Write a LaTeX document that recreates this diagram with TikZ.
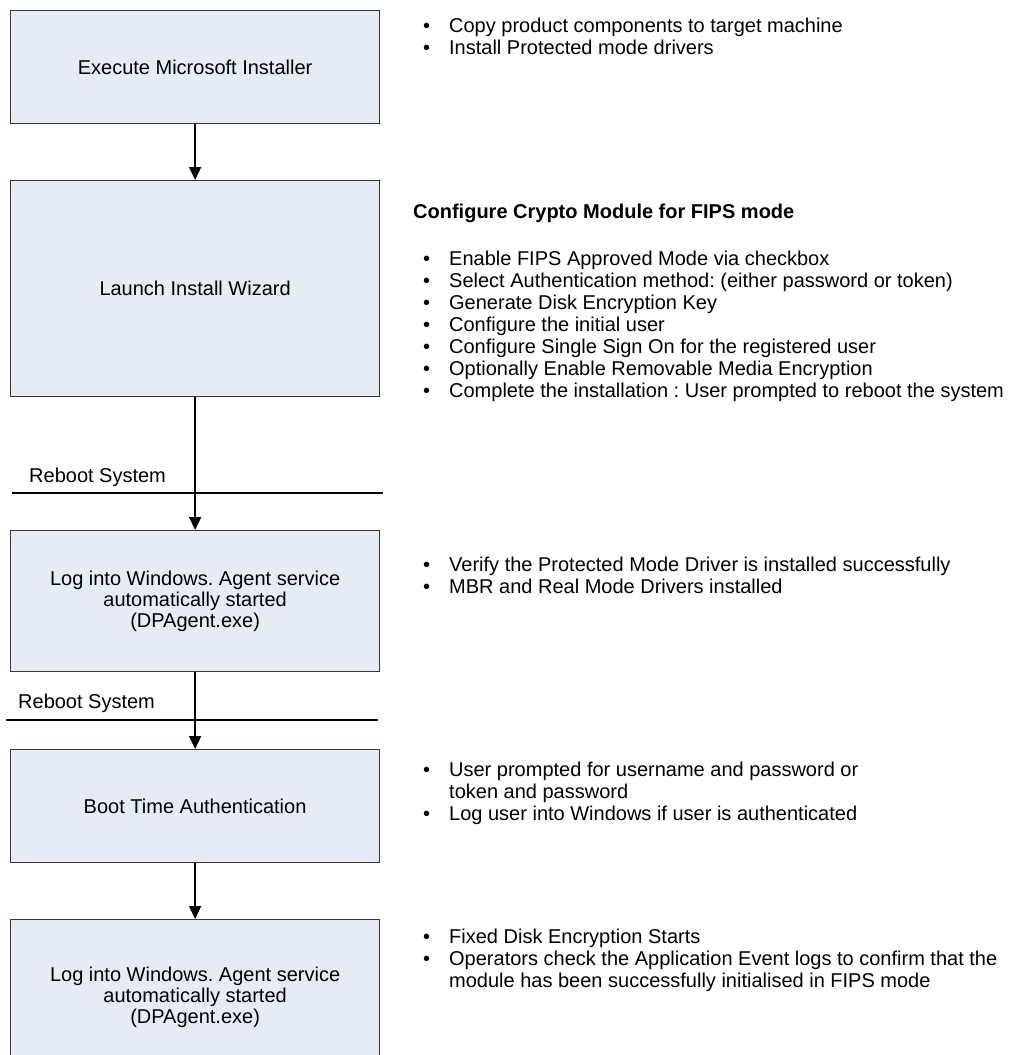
\documentclass[tikz,border=0pt]{standalone}
\usepackage{fontspec}
\setmainfont{Liberation Sans}
\usetikzlibrary{arrows.meta}
\definecolor{boxfill}{RGB}{230,236,246}
\definecolor{boxdraw}{RGB}{55,55,55}
\newcommand{\bl}{\textbullet}
\frenchspacing
\begin{document}
\begin{tikzpicture}[x=1pt,y=-1pt,
  box/.style={draw=boxdraw, fill=boxfill, line width=1.2pt, minimum width=369pt,
    align=center, font=\fontsize{20}{21}\selectfont, inner sep=0pt, anchor=north west},
  arr/.style={-{Triangle[length=13pt,width=12pt]}, line width=1.5pt, black},
  rebootline/.style={line width=2pt, black},
  rebootlabel/.style={font=\fontsize{20}{21}\selectfont, anchor=west, inner sep=0pt},
  rtext/.style={font=\fontsize{20}{22}\selectfont, anchor=north west, inner sep=0pt, align=left},
  heading/.style={font=\fontsize{20}{22}\selectfont\bfseries, anchor=west, inner sep=0pt}]
\useasboundingbox (0,0) rectangle (1009,1055);
\clip (0,0) rectangle (1009,1055);
\fill[white] (0,0) rectangle (1009,1055);

% boxes
\node[box, minimum height=113pt] (b1) at (10,10) {Execute Microsoft Installer};
\node[box, minimum height=216pt] (b2) at (10,180) {Launch Install Wizard};
\node[box, minimum height=141pt] (b3) at (10,530) {Log into Windows. Agent service\\automatically started\\(DPAgent.exe)};
\node[box, minimum height=113pt] (b4) at (10,749) {Boot Time Authentication};
\node[box, minimum height=156pt] (b5) at (10,919) {Log into Windows. Agent service\\automatically started\\(DPAgent.exe)};

% arrows
\draw[arr] (b1.south) -- (b2.north);
\draw[arr] (b2.south) -- (b3.north);
\draw[arr] (b3.south) -- (b4.north);
\draw[arr] (b4.south) -- (b5.north);

% reboot lines
\coordinate (r1a) at (12,493);
\coordinate (r1b) at (383,493);
\draw[rebootline] (r1a) -- (r1b);
\node[rebootlabel] (r1t) at (29,477) {Reboot System};
\coordinate (r2a) at (6,720);
\coordinate (r2b) at (378,720);
\draw[rebootline] (r2a) -- (r2b);
\node[rebootlabel] (r2t) at (18,703) {Reboot System};

% right column texts
\node[rtext] (t1) at (423,17) {\begin{tabular}{@{}p{26pt}@{}l@{}}\bl & Copy product components to target machine\\
\bl & Install Protected mode drivers\end{tabular}};

\node[heading] (h2) at (413,213) {Configure Crypto Module for FIPS mode};
\node[rtext] (t2) at (423,250) {\begin{tabular}{@{}p{26pt}@{}l@{}}\bl & Enable FIPS Approved Mode via checkbox\\
\bl & Select Authentication method: (either password or token)\\
\bl & Generate Disk Encryption Key\\
\bl & Configure the initial user\\
\bl & Configure Single Sign On for the registered user\\
\bl & Optionally Enable Removable Media Encryption\\
\bl & Complete the installation : User prompted to reboot the system\end{tabular}};

\node[rtext] (t3) at (423,556) {\begin{tabular}{@{}p{26pt}@{}l@{}}\bl & Verify the Protected Mode Driver is installed successfully\\
\bl & MBR and Real Mode Drivers installed\end{tabular}};

\node[rtext] (t4) at (423,761) {\begin{tabular}{@{}p{26pt}@{}l@{}}\bl & User prompted for username and password or\\
 & token and password\\
\bl & Log user into Windows if user is authenticated\end{tabular}};

\node[rtext] (t5) at (423,928) {\begin{tabular}{@{}p{26pt}@{}l@{}}\bl & Fixed Disk Encryption Starts\\
\bl & Operators check the Application Event logs to confirm that the\\
 & module has been successfully initialised in FIPS mode\end{tabular}};
\end{tikzpicture}
\end{document}
